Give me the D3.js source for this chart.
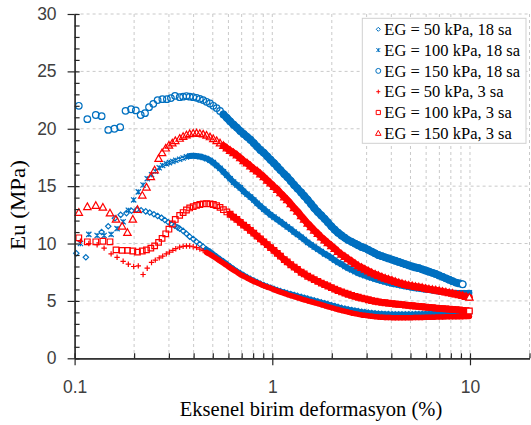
<!DOCTYPE html>
<html>
<head>
<meta charset="utf-8">
<script src="https://cdn.jsdelivr.net/npm/d3@7"></script>
<style>
  html, body { margin: 0; padding: 0; background: #fff; }
  svg { display: block; }
  .tick text { font-family: "Liberation Sans", Arial, sans-serif; font-size: 17.5px; fill: #404040; }
  .axis-title { font-family: "Liberation Serif", "Times New Roman", serif; fill: #000; }
  .legend text { font-family: "Liberation Serif", "Times New Roman", serif; font-size: 16.5px; fill: #000; }
</style>
</head>
<body>
<div id="chart"></div>
<script>
// -----------------------------
// CONFIG
// -----------------------------
const WIDTH = 531;
const HEIGHT = 425;
const MARGIN = { top: 14, right: 1.5, bottom: 66.7, left: 74.6 };
const BLUE = "#0070c0";
const RED = "#ff0000";

// -----------------------------
// DATA
// -----------------------------
const X_TICKS = [0.1, 1, 10];
const X_TICK_LABELS = ["0.1", "1", "10"];
const Y_TICKS = [0, 5, 10, 15, 20, 25, 30];

const LEGEND_LABELS = [
  "EG = 50 kPa, 18 sa",
  "EG = 100 kPa, 18 sa",
  "EG = 150 kPa, 18 sa",
  "EG = 50 kPa, 3 sa",
  "EG = 100 kPa, 3 sa",
  "EG = 150 kPa, 3 sa"
];

// strain (%) of the dense part, shared by all six tests
const STRAIN = [
  0.340,0.354,0.368,0.382,0.398,0.414,0.430,0.447,0.465,0.484,
  0.503,0.523,0.544,0.566,0.589,0.612,0.637,0.662,0.689,0.716,
  0.745,0.775,0.806,0.838,0.871,0.906,0.943,0.980,1.02,1.06,
  1.10,1.15,1.19,1.24,1.29,1.34,1.40,1.45,1.51,1.57,
  1.63,1.70,1.77,1.84,1.91,1.99,2.07,2.15,2.24,2.33,
  2.42,2.52,2.62,2.72,2.83,2.94,3.06,3.18,3.31,3.44,
  3.58,3.72,3.87,4.03,4.19,4.36,4.53,4.71,4.90,5.10,
  5.30,5.51,5.73,5.96,6.20,6.45,6.71,6.98,7.26,7.55,
  7.85,8.16,8.49,8.83,9.18,9.55,9.93
];

// EG = 50 kPa, 18 sa
const EG50_18_X0 = [0.102,0.114,0.137,0.148,0.160,0.171,0.183,0.194,0.206,0.217,0.229,0.240,0.252,0.263,0.275,0.286,0.298,0.309,0.321,0.332];
const EG50_18_Y0 = [9.15,8.8,11.0,11.5,12.2,12.5,12.65,12.85,12.95,12.9,12.8,12.7,12.55,12.4,12.25,12.05,11.85,11.7,11.55,11.4];
const EG50_18_Y = [
  11.3,11.1,10.85,10.6,10.4,10.15,9.95,9.73,9.5,9.3,
  9.08,8.86,8.65,8.45,8.22,8.0,7.8,7.6,7.42,7.25,
  7.08,6.92,6.78,6.64,6.5,6.38,6.26,6.15,6.05,5.95,
  5.86,5.76,5.68,5.6,5.52,5.44,5.35,5.28,5.2,5.12,
  5.04,4.96,4.88,4.8,4.72,4.64,4.56,4.48,4.4,4.33,
  4.27,4.21,4.16,4.11,4.06,4.02,3.98,3.95,3.92,3.9,
  3.88,3.86,3.85,3.84,3.83,3.83,3.83,3.83,3.84,3.84,
  3.85,3.86,3.87,3.88,3.89,3.9,3.91,3.92,3.93,3.94,
  3.95,3.96,3.96,3.96,3.95,3.94,3.93
];

// EG = 100 kPa, 18 sa
const EG100_18_X0 = [0.107,0.118,0.130,0.141,0.153,0.164,0.176,0.187,0.199,0.210,0.222,0.233,0.245,0.256,0.268,0.279,0.291,0.302,0.314,0.325];
const EG100_18_Y0 = [10.0,10.8,10.7,10.7,10.8,11.3,11.9,12.9,13.8,14.5,15.1,15.65,16.0,16.3,16.6,16.8,16.95,17.05,17.15,17.25];
const EG100_18_Y = [
  17.35,17.45,17.55,17.62,17.65,17.62,17.58,17.5,17.4,17.25,
  17.05,16.8,16.55,16.25,15.95,15.65,15.35,15.1,14.85,14.55,
  14.3,14.05,13.8,13.5,13.25,13.0,12.75,12.5,12.3,12.1,
  11.9,11.65,11.45,11.25,11.0,10.8,10.55,10.35,10.1,9.9,
  9.7,9.5,9.3,9.1,8.95,8.75,8.55,8.35,8.2,8.0,
  7.85,7.7,7.55,7.42,7.3,7.2,7.1,7.0,6.9,6.82,
  6.73,6.65,6.57,6.5,6.44,6.38,6.32,6.26,6.2,6.15,
  6.1,6.06,6.02,5.98,5.94,5.9,5.86,5.82,5.79,5.76,
  5.74,5.72,5.7,5.7,5.7,5.7,5.72
];

// EG = 150 kPa, 18 sa
const EG150_18_X0 = [0.105,0.116,0.128,0.137,0.148,0.159,0.170,0.181,0.193,0.204,0.216,0.227,0.238,0.250,0.263,0.278,0.293,0.307,0.322];
const EG150_18_Y0 = [22.0,20.84,21.2,21.1,19.9,20.0,20.14,21.56,21.7,21.6,21.2,21.36,21.88,22.17,22.5,22.58,22.58,22.67,22.87];
const EG150_18_Y = [
  22.75,22.8,22.85,22.8,22.75,22.7,22.6,22.5,22.35,22.2,
  22.0,21.8,21.55,21.25,20.95,20.65,20.35,20.1,19.8,19.55,
  19.3,19.05,18.75,18.45,18.15,17.9,17.6,17.3,17.0,16.7,
  16.4,16.05,15.8,15.45,15.1,14.8,14.45,14.15,13.8,13.45,
  13.1,12.75,12.45,12.15,11.85,11.5,11.2,10.95,10.7,10.5,
  10.3,10.15,10.0,9.85,9.7,9.6,9.45,9.3,9.15,9.0,
  8.9,8.8,8.7,8.6,8.5,8.4,8.3,8.2,8.1,8.0,
  7.92,7.85,7.75,7.65,7.55,7.45,7.35,7.22,7.1,6.97,
  6.85,6.72,6.6,6.52,6.45
];

// EG = 50 kPa, 3 sa
const EG50_3_X0 = [0.107,0.118,0.130,0.141,0.153,0.164,0.176,0.187,0.199,0.210,0.222,0.233,0.245,0.256,0.268,0.279,0.291,0.302,0.314,0.325];
const EG50_3_Y0 = [10.2,10.0,9.9,9.6,9.1,8.8,8.45,8.2,8.0,8.05,7.3,7.85,8.35,8.55,8.75,8.9,9.1,9.25,9.4,9.55];
const EG50_3_Y = [
  9.68,9.75,9.79,9.78,9.72,9.64,9.52,9.38,9.22,9.05,
  8.87,8.68,8.48,8.28,8.08,7.88,7.68,7.5,7.3,7.15,
  7.0,6.85,6.7,6.58,6.45,6.32,6.2,6.1,5.98,5.87,
  5.77,5.66,5.56,5.46,5.37,5.28,5.18,5.1,5.01,4.93,
  4.85,4.76,4.67,4.58,4.5,4.41,4.33,4.25,4.17,4.09,
  4.02,3.95,3.89,3.83,3.78,3.74,3.7,3.66,3.63,3.6,
  3.58,3.56,3.55,3.54,3.53,3.53,3.53,3.53,3.54,3.54,
  3.55,3.55,3.56,3.57,3.58,3.58,3.59,3.6,3.6,3.61,
  3.61,3.62,3.62,3.63,3.63,3.64,3.65
];

// EG = 100 kPa, 3 sa
const EG100_3_X0 = [0.105,0.116,0.128,0.139,0.151,0.162,0.174,0.185,0.197,0.208,0.220,0.231,0.243,0.254,0.266,0.277,0.289,0.300,0.312,0.323];
const EG100_3_Y0 = [10.5,10.15,10.15,10.2,10.15,9.45,9.4,9.4,9.35,9.25,9.35,9.45,9.6,9.8,10.1,10.45,10.85,11.25,11.7,12.1];
const EG100_3_Y = [
  12.45,12.7,12.92,13.1,13.22,13.32,13.4,13.45,13.47,13.45,
  13.4,13.3,13.15,12.95,12.75,12.55,12.3,12.1,11.85,11.6,
  11.4,11.15,10.9,10.65,10.4,10.15,9.9,9.65,9.4,9.15,
  8.9,8.6,8.4,8.15,7.95,7.75,7.5,7.35,7.15,7.0,
  6.85,6.7,6.55,6.42,6.3,6.15,6.02,5.9,5.78,5.68,
  5.58,5.48,5.4,5.32,5.25,5.17,5.1,5.03,4.97,4.92,
  4.88,4.84,4.8,4.76,4.73,4.7,4.67,4.64,4.61,4.58,
  4.55,4.52,4.49,4.46,4.43,4.41,4.38,4.35,4.33,4.3,
  4.28,4.26,4.24,4.21,4.18,4.15,4.12
];

// EG = 150 kPa, 3 sa
const EG150_3_X0 = [0.105,0.116,0.128,0.139,0.151,0.162,0.174,0.185,0.197,0.208,0.220,0.231,0.243,0.254,0.266,0.277,0.289,0.300,0.312,0.323];
const EG150_3_Y0 = [12.7,13.2,13.3,13.15,12.65,12.1,11.5,10.95,12.1,12.95,14.2,14.9,15.8,16.4,17.4,17.9,18.3,18.55,18.75,18.95];
const EG150_3_Y = [
  19.15,19.32,19.45,19.55,19.6,19.62,19.58,19.52,19.42,19.28,
  19.12,18.95,18.75,18.52,18.3,18.1,17.9,17.7,17.45,17.2,
  17.0,16.75,16.5,16.3,16.05,15.8,15.5,15.25,14.95,14.7,
  14.4,14.05,13.8,13.45,13.1,12.8,12.4,12.1,11.75,11.45,
  11.15,10.85,10.55,10.3,10.05,9.8,9.55,9.3,9.05,8.85,
  8.65,8.45,8.25,8.05,7.9,7.75,7.6,7.45,7.32,7.2,
  7.08,6.97,6.87,6.78,6.68,6.58,6.5,6.42,6.35,6.3,
  6.25,6.2,6.15,6.08,6.02,5.98,5.93,5.88,5.82,5.76,
  5.7,5.65,5.58,5.52,5.45,5.38,5.3
];

// -----------------------------
// MARKERS (Excel-like, outline only)
// -----------------------------
const SYMBOLS = {
  diamond: { draw(c, s) { c.moveTo(0, -s); c.lineTo(s, 0); c.lineTo(0, s); c.lineTo(-s, 0); c.closePath(); } },
  star: { draw(c, s) { c.moveTo(-s, -s); c.lineTo(s, s); c.moveTo(s, -s); c.lineTo(-s, s); c.moveTo(0, -s); c.lineTo(0, s); } },
  circle: { draw(c, s) { c.moveTo(s, 0); c.arc(0, 0, s, 0, 2 * Math.PI); } },
  plus: { draw(c, s) { c.moveTo(-s, 0); c.lineTo(s, 0); c.moveTo(0, -s); c.lineTo(0, s); } },
  square: { draw(c, s) { c.rect(-s, -s, 2 * s, 2 * s); } },
  triangle: { draw(c, s) { c.moveTo(0, -s); c.lineTo(s * 0.95, s * 0.7); c.lineTo(-s * 0.95, s * 0.7); c.closePath(); } }
};

// solidFrom: strain past which the logged points overlap into one band
const SERIES = [
  { name: LEGEND_LABELS[0], color: BLUE, shape: "diamond", size: 2.7, band: 5, solidFrom: 0.45, x0: EG50_18_X0, y0: EG50_18_Y0, y: EG50_18_Y },
  { name: LEGEND_LABELS[1], color: BLUE, shape: "star", size: 2.6, band: 6, solidFrom: 0.38, x0: EG100_18_X0, y0: EG100_18_Y0, y: EG100_18_Y },
  { name: LEGEND_LABELS[2], color: BLUE, shape: "circle", size: 3.3, band: 7.5, solidFrom: 0.55, x0: EG150_18_X0, y0: EG150_18_Y0, y: EG150_18_Y },
  { name: LEGEND_LABELS[3], color: RED, shape: "plus", size: 2.7, band: 5.5, solidFrom: 0.45, x0: EG50_3_X0, y0: EG50_3_Y0, y: EG50_3_Y },
  { name: LEGEND_LABELS[4], color: RED, shape: "square", size: 2.8, band: 6.5, solidFrom: 0.6, x0: EG100_3_X0, y0: EG100_3_Y0, y: EG100_3_Y },
  { name: LEGEND_LABELS[5], color: RED, shape: "triangle", size: 3.9, band: 7, solidFrom: 0.55, x0: EG150_3_X0, y0: EG150_3_Y0, y: EG150_3_Y }
];

function pointsOf(s) {
  const early = s.x0.map((v, i) => ({ x: v, y: s.y0[i] }));
  const dense = s.y.map((v, i) => ({ x: STRAIN[i], y: v }));
  return early.concat(dense);
}

// =============================================================
// CHART
// =============================================================
const innerW = WIDTH - MARGIN.left - MARGIN.right;
const innerH = HEIGHT - MARGIN.top - MARGIN.bottom;

const svg = d3.select("#chart").append("svg")
  .attr("width", WIDTH)
  .attr("height", HEIGHT);

const g = svg.append("g")
  .attr("transform", `translate(${MARGIN.left},${MARGIN.top})`);

const x = d3.scaleLog().domain([0.1, 20]).range([0, innerW]);
const y = d3.scaleLinear().domain([0, 30]).range([innerH, 0]);

// ---- grid ----
const grid = g.append("g").attr("stroke", "#c9c9c9").attr("stroke-width", 1).attr("stroke-dasharray", "3,3");
grid.selectAll("line.h").data(Y_TICKS.slice(1)).enter().append("line")
  .attr("x1", 0).attr("x2", innerW)
  .attr("y1", d => y(d)).attr("y2", d => y(d));
grid.selectAll("line.v").data(x.ticks().filter(d => d > 0.1)).enter().append("line")
  .attr("x1", d => x(d)).attr("x2", d => x(d))
  .attr("y1", 0).attr("y2", innerH);

// ---- data ----
const bandLine = d3.line().x(d => x(d.x)).y(d => y(d.y)).curve(d3.curveMonotoneX);

SERIES.forEach(s => {
  const pts = pointsOf(s);
  const layer = g.append("g");

  layer.append("path")
    .datum(pts.filter(d => d.x >= s.solidFrom))
    .attr("d", bandLine)
    .attr("fill", "none")
    .attr("stroke", s.color)
    .attr("stroke-width", s.band)
    .attr("stroke-linecap", "round");

  const sym = d3.symbol().type(SYMBOLS[s.shape]).size(s.size);
  layer.selectAll("path.pt")
    .data(pts)
    .enter().append("path")
    .attr("class", "pt")
    .attr("transform", d => `translate(${x(d.x)},${y(d.y)})`)
    .attr("d", sym)
    .attr("fill", (d, i) => i === pts.length - 1 ? "#fff" : "none")
    .attr("stroke", s.color)
    .attr("stroke-width", 1.2);
});

// ---- axes ----
function styleAxis(sel) {
  sel.attr("font-size", null).attr("font-family", null);
  sel.selectAll("path, line").attr("stroke", "#262626").attr("stroke-width", 1.2);
}

g.append("g")
  .call(d3.axisLeft(y).tickValues(d3.range(0, 31)).tickSize(-5).tickSizeOuter(0).tickFormat(""))
  .call(styleAxis);
g.append("g")
  .call(d3.axisLeft(y).tickValues(Y_TICKS).tickSize(7).tickSizeOuter(0).tickPadding(11).tickFormat(d3.format("d")))
  .call(styleAxis);

g.append("g")
  .attr("transform", `translate(0,${innerH})`)
  .call(d3.axisBottom(x).tickValues(x.ticks()).tickSize(-5).tickSizeOuter(0).tickFormat(""))
  .call(styleAxis);
g.append("g")
  .attr("transform", `translate(0,${innerH})`)
  .call(d3.axisBottom(x).tickValues(X_TICKS).tickSize(7).tickSizeOuter(0).tickPadding(15)
    .tickFormat((d, i) => X_TICK_LABELS[i]))
  .call(styleAxis);

// ---- axis titles ----
svg.append("text")
  .attr("class", "axis-title")
  .attr("x", 311)
  .attr("y", 416)
  .attr("text-anchor", "middle")
  .attr("font-size", 20.5)
  .text("Eksenel birim deformasyon (%)");

svg.append("text")
  .attr("class", "axis-title")
  .attr("transform", "translate(25,205) rotate(-90) scale(1.12,1)")
  .attr("text-anchor", "middle")
  .attr("font-size", 20.5)
  .text("Eu (MPa)");

// ---- legend ----
const legend = svg.append("g").attr("class", "legend")
  .attr("transform", "translate(362.3,18.3)");

legend.append("rect")
  .attr("width", 163.7).attr("height", 125)
  .attr("fill", "#fff")
  .attr("stroke", "#d0d0d0");

const rows = legend.selectAll("g.row").data(SERIES).enter().append("g")
  .attr("transform", (d, i) => `translate(0,${11 + i * 20.8})`);

rows.append("path")
  .attr("transform", "translate(16,0)")
  .attr("d", d => d3.symbol().type(SYMBOLS[d.shape]).size(d.size * 0.75)())
  .attr("fill", "none")
  .attr("stroke", d => d.color)
  .attr("stroke-width", 1);

rows.append("text")
  .attr("x", 22)
  .attr("dy", "0.35em")
  .text(d => d.name);
</script>
</body>
</html>
